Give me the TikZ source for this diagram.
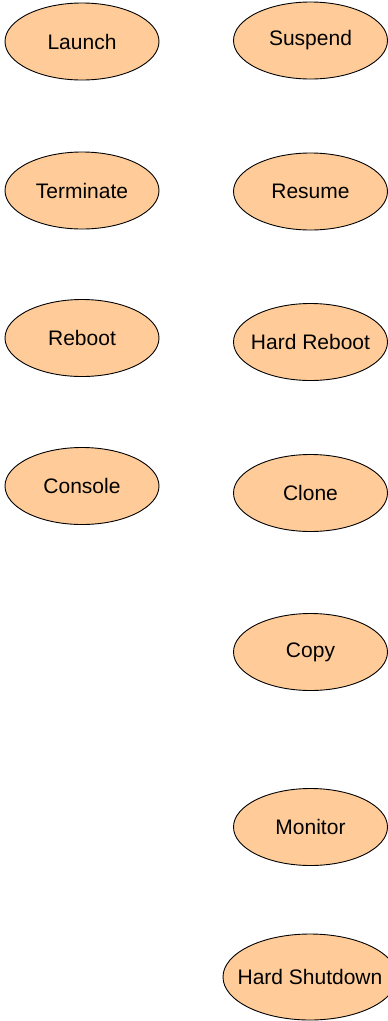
\documentclass[tikz,border=0pt]{standalone}
\usepackage{fontspec}
\setmainfont{Liberation Sans}
\usetikzlibrary{shapes.geometric}
\definecolor{peach}{RGB}{255,204,153}
\newcommand{\fixw}[1]{\makebox[0pt]{#1}}
\tikzset{
  uc/.style={ellipse, draw=black, fill=peach, line width=0.9pt, inner sep=0pt,
    minimum width=154pt, minimum height=77pt, font=\fontsize{21}{24}\selectfont, text=black},
  ucwide/.style={uc, minimum width=174pt, minimum height=86pt}
}
\begin{document}
\begin{tikzpicture}[x=1pt,y=-1pt]
\useasboundingbox (0,0) rectangle (388,1021);
\node[uc] (launch) at (82,41.5) {\fixw{Launch}};
\node[uc] (terminate) at (82,190.5) {\fixw{Terminate}};
\node[uc] (reboot) at (82,338) {\fixw{Reboot}};
\node[uc] (console) at (82,486) {\fixw{Console}};
\node[uc] (suspend) at (310.5,40.5) {\fixw{Suspend}};
\node[uc] (resume) at (310.5,191.5) {\fixw{Resume}};
\node[uc] (hardreboot) at (310.5,342) {\fixw{Hard Reboot}};
\node[uc] (clone) at (310.5,493) {\fixw{Clone}};
\node[uc] (copy) at (310.5,652) {\fixw{Copy}};
\node[uc] (monitor) at (310.5,827) {\fixw{Monitor}};
\node[ucwide] (hardshutdown) at (310,977) {\fixw{Hard Shutdown}};
\end{tikzpicture}
\end{document}
